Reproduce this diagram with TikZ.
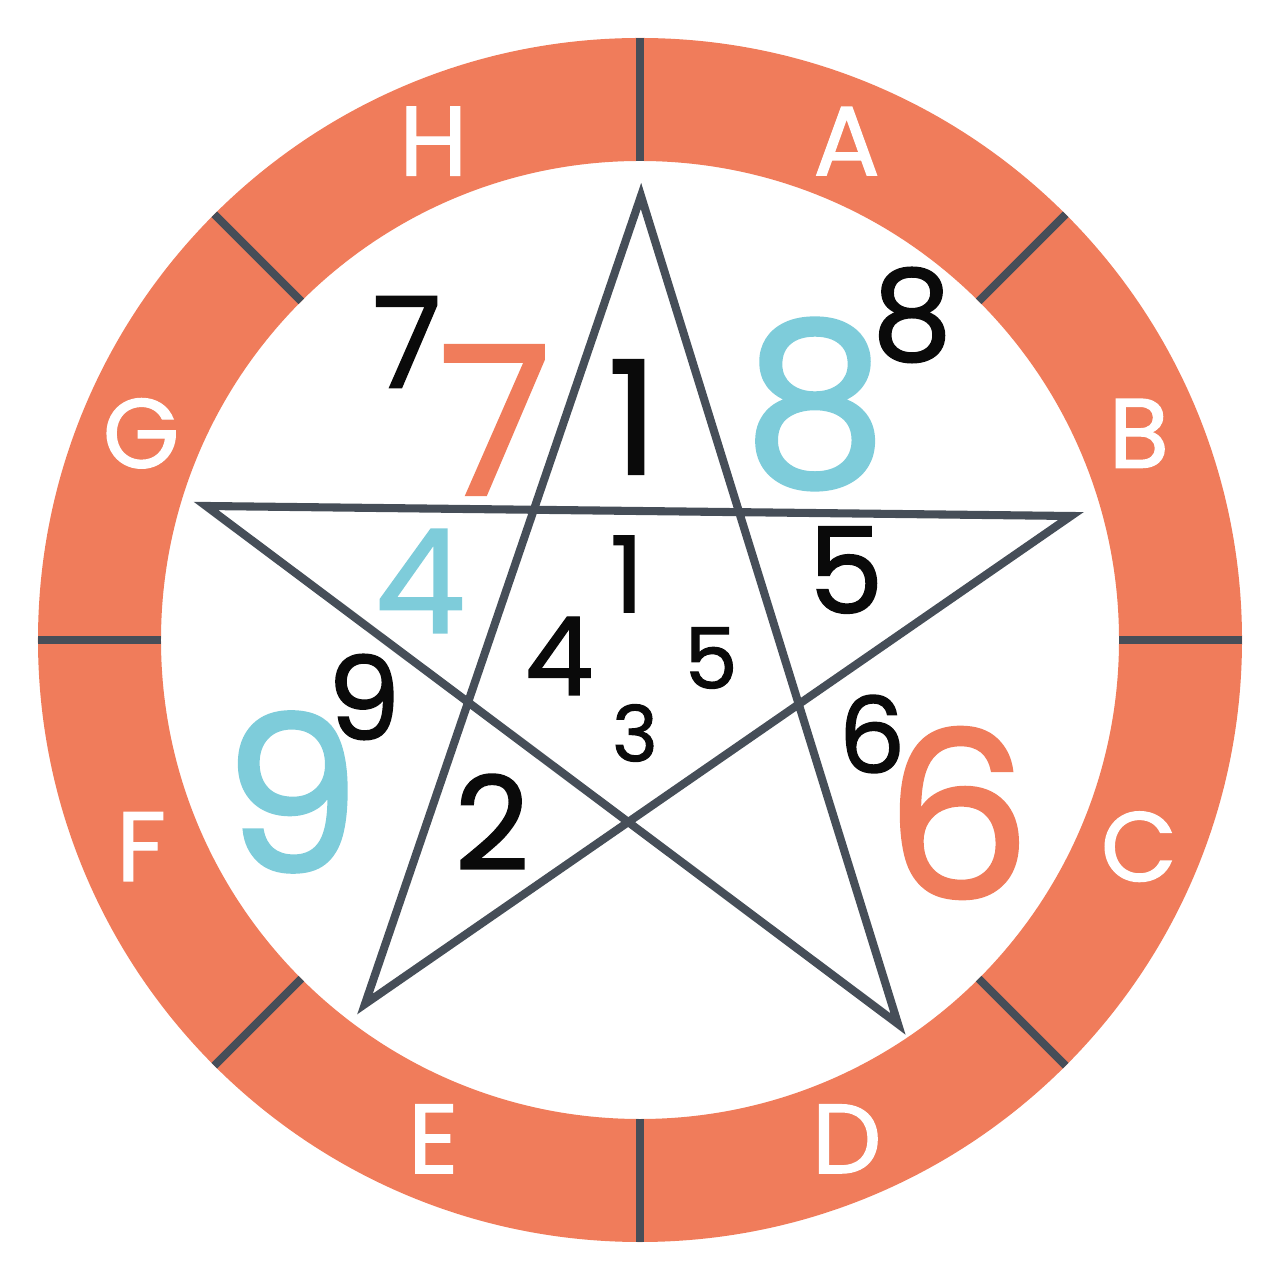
\documentclass[tikz,border=0pt]{standalone}
\usepackage{fontspec}
\setmainfont{Poppins}[FakeBold=1.3]
\usepackage{tikz}
\usepackage{xcolor}
\definecolor{ringorange}{HTML}{F07C5B}
\definecolor{slate}{HTML}{464E58}
\definecolor{skyblue}{HTML}{7ECCDA}
\definecolor{ink}{HTML}{0A0A0A}
\tikzset{
  ring/.style={fill=ringorange,even odd rule},
  divider/.style={draw=slate,line width=2.3pt},
  starline/.style={draw=slate,line width=2.3pt,line join=miter},
  ringlabel/.style={text=white,font=\fontsize{28}{28}\selectfont,inner sep=0pt},
  num/.style={font=\fontsize{#1}{#1}\selectfont,inner sep=0pt,text=ink}
}

\begin{document}
\begin{tikzpicture}[x=1cm,y=1cm]
    \path[use as bounding box] (-6.4,-6.4) rectangle (6.4,6.4);
    % outer ring with eight sectors
    \path[ring] (0,0) circle (6.02) (0,0) circle (4.79);
    \foreach \a in {0,45,...,315}{
      \draw[divider] (\a:4.79) -- (\a:6.02);
    }
    \foreach \a/\lab in {67.5/A,22.5/B,-22.5/C,-67.5/D,-112.5/E,-157.5/F,157.5/G,112.5/H}{
      \node[ringlabel] (lab\lab) at (\a:5.4) {\lab};
    }

    % pentagram
    \coordinate (top) at (0.01,4.44);
    \coordinate (right) at (4.31,1.24);
    \coordinate (botR) at (2.58,-3.84);
    \coordinate (botL) at (-2.75,-3.64);
    \coordinate (left) at (-4.34,1.34);
    \draw[starline] (top) -- (botL) -- (right) -- (left) -- (botR) -- cycle;

    % numbers
    \node[num=36] (sevS) at (-2.33,2.98) {7};
    \node[num=59,text=ringorange] (sevB) at (-1.45,2.20) {7};
    \node[num=45] (oneB) at (-0.07,2.23) {1};
    \node[num=65,text=skyblue] (eigB) at (1.75,2.36) {8};
    \node[num=36] (eigS) at (2.72,3.25) {8};
    \node[num=41,text=skyblue] (fouB) at (-2.20,0.59) {4};
    \node[num=34] (fivR) at (2.06,0.70) {5};
    \node[num=30] (oneC) at (-0.13,0.66) {1};
    \node[num=31] (fouC) at (-0.81,-0.16) {4};
    \node[num=24] (fivC) at (0.71,-0.18) {5};
    \node[num=22] (thrC) at (-0.05,-0.93) {3};
    \node[num=33] (ninS) at (-2.76,-0.57) {9};
    \node[num=62,text=skyblue] (ninB) at (-3.48,-1.52) {9};
    \node[num=37] (twoB) at (-1.48,-1.82) {2};
    \node[num=30] (sixS) at (2.32,-0.94) {6};
    \node[num=66,text=ringorange] (sixB) at (3.18,-1.73) {6};
\end{tikzpicture}
\end{document}
